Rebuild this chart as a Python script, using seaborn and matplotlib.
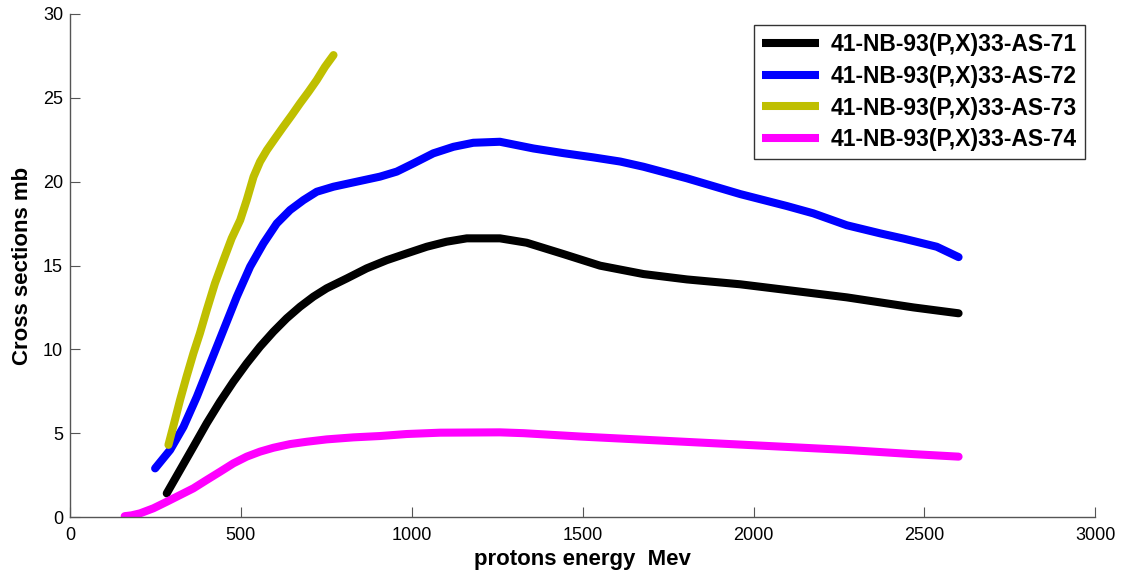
import numpy as np
import pandas as pd
import matplotlib
matplotlib.use("Agg")
import matplotlib.pyplot as plt
import seaborn as sns

# ============================================================
# Data (MeV vs mb)
# ============================================================

labels = ["41-NB-93(P,X)33-AS-71", "41-NB-93(P,X)33-AS-72",
          "41-NB-93(P,X)33-AS-73", "41-NB-93(P,X)33-AS-74"]

as71_x = [283, 322, 361, 400, 439, 478, 517, 556, 595, 634, 673, 712, 751,
          810, 868, 927, 985, 1044, 1102, 1161, 1258, 1336, 1444, 1551, 1678,
          1805, 1961, 2097, 2273, 2468, 2600]
as71_y = [1.41, 2.80, 4.19, 5.59, 6.88, 8.07, 9.16, 10.16, 11.05, 11.85, 12.54,
          13.14, 13.64, 14.23, 14.83, 15.32, 15.72, 16.12, 16.42, 16.62, 16.62,
          16.36, 15.68, 14.99, 14.49, 14.17, 13.88, 13.54, 13.1, 12.5, 12.15]

as72_x = [249, 293, 332, 371, 410, 449, 488, 527, 566, 605, 644, 683, 722, 771,
          839, 907, 956, 1005, 1063, 1122, 1180, 1258, 1356, 1444, 1531, 1610,
          1678, 1805, 1961, 2097, 2175, 2273, 2370, 2440, 2536, 2600]
as72_y = [2.9, 4.0, 5.38, 7.17, 9.16, 11.15, 13.14, 14.93, 16.32, 17.51, 18.31,
          18.90, 19.40, 19.70, 20.0, 20.3, 20.6, 21.09, 21.69, 22.08, 22.32, 22.38,
          21.98, 21.7, 21.45, 21.2, 20.89, 20.20, 19.26, 18.55, 18.11, 17.4, 16.92,
          16.6, 16.12, 15.5]

as73_x = [288, 302, 322, 341, 361, 380, 400, 424, 449, 473, 498, 517, 537, 556,
          576, 600, 624, 649, 673, 698, 722, 746, 771]
as73_y = [4.3, 5.39, 6.98, 8.37, 9.76, 10.95, 12.34, 13.93, 15.32, 16.62, 17.71,
          18.90, 20.29, 21.19, 21.88, 22.58, 23.27, 23.97, 24.67, 25.36, 26.06,
          26.85, 27.55]

as74_x = [160, 180, 205, 244, 283, 322, 361, 400, 439, 478, 517, 556, 595, 644,
          693, 751, 829, 907, 985, 1083, 1258, 1327, 1493, 1688, 1883, 2078, 2273,
          2468, 2600]
as74_y = [0.05, 0.1, 0.22, 0.52, 0.91, 1.31, 1.71, 2.21, 2.70, 3.20, 3.60, 3.90,
          4.13, 4.35, 4.49, 4.63, 4.75, 4.83, 4.95, 5.03, 5.05, 5.0, 4.8, 4.6,
          4.4, 4.2, 4.0, 3.75, 3.6]

colors = ["#000000", "#0000ff", "#bfbf00", "#ff00ff"]

xticks = [0, 500, 1000, 1500, 2000, 2500, 3000]
yticks = [0, 5, 10, 15, 20, 25, 30]

# long-form table for seaborn
frames = []
for lab, xs, ys in zip(labels, [as71_x, as72_x, as73_x, as74_x],
                       [as71_y, as72_y, as73_y, as74_y]):
    frames.append(pd.DataFrame({"energy": xs, "xs": ys, "series": lab}))
df = pd.concat(frames, ignore_index=True)

# ============================================================
# Plot
# ============================================================

sns.set_style("ticks")
plt.rcParams["font.family"] = ["Liberation Sans", "DejaVu Sans"]
plt.rcParams["text.color"] = "black"
plt.rcParams["axes.labelcolor"] = "black"

fig = plt.figure(figsize=(11.22, 5.76), dpi=100)
ax = fig.add_axes([0.0624, 0.1024, 0.9138, 0.8733])

sns.lineplot(data=df, x="energy", y="xs", hue="series", hue_order=labels,
             palette=dict(zip(labels, colors)), sort=False, estimator=None,
             linewidth=5.8, ax=ax)
for line in ax.get_lines():
    line.set_solid_capstyle("round")
    line.set_solid_joinstyle("round")

ax.set_xlim(0, 3000)
ax.set_ylim(0, 30)
ax.set_xticks(xticks)
ax.set_yticks(yticks)
ax.tick_params(direction="in", length=7, width=0.8, labelsize=13,
               colors="#555555", labelcolor="black", bottom=True, left=True)
ax.tick_params(axis="x", pad=7)
ax.tick_params(axis="y", pad=5)
sns.despine(ax=ax)
for side in ["left", "bottom"]:
    ax.spines[side].set_color("#555555")
    ax.spines[side].set_linewidth(1.0)

ax.set_xlabel("protons energy  Mev", fontsize=16, fontweight="bold", labelpad=4)
ax.set_ylabel("Cross sections mb", fontsize=16, fontweight="bold", labelpad=7)

leg = ax.legend(loc="upper right", bbox_to_anchor=(0.99, 0.978),
                borderaxespad=0, frameon=True, fancybox=False,
                prop={"size": 16.5, "weight": "bold"}, handlelength=2.5,
                handletextpad=0.5, labelspacing=0.38, borderpad=0.35)
leg.get_frame().set_edgecolor("black")
leg.get_frame().set_linewidth(1.0)
for h in leg.get_lines():
    h.set_linewidth(5.8)
    h.set_solid_capstyle("butt")

fig.savefig("out.png", dpi=100)
